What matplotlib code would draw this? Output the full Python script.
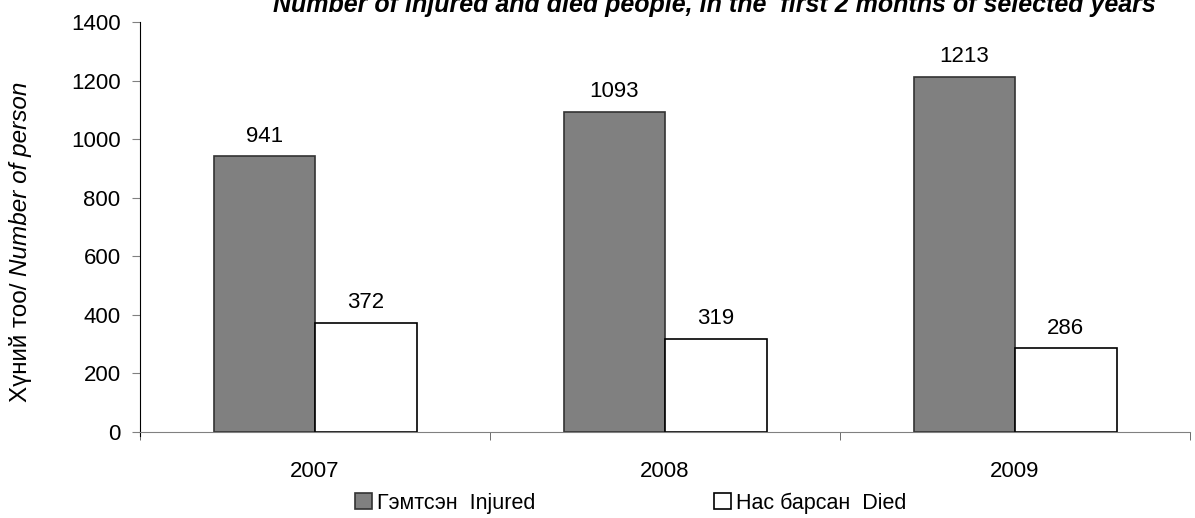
import matplotlib
matplotlib.use("Agg")
import matplotlib.pyplot as plt
import numpy as np

plt.rcParams["font.family"] = ["Liberation Sans", "DejaVu Sans"]

years = ["2007", "2008", "2009"]
injured = [941, 1093, 1213]
died = [372, 319, 286]
legend_labels = ["Гэмтсэн  Injured", "Нас барсан  Died"]
title = "Number of injured and died people, in the  first 2 months of selected years"

fig = plt.figure(figsize=(11.95, 5.18), dpi=100)
ax = fig.add_axes([140 / 1195, 1 - 432 / 518, 1050 / 1195, 410 / 518])

x = np.arange(len(years))
w = 0.29
b1 = ax.bar(x - w / 2, injured, w, color="#808080", edgecolor="#333333", linewidth=1.2, label=legend_labels[0])
b2 = ax.bar(x + w / 2, died, w, color="white", edgecolor="black", linewidth=1.2, label=legend_labels[1])

for bars, vals in [(b1, injured), (b2, died)]:
    for r, v in zip(bars, vals):
        ax.annotate(str(v), (r.get_x() + r.get_width() / 2, v), xytext=(0, 7),
                    textcoords="offset points", ha="center", va="bottom", fontsize=16)

ax.set_xlim(-0.5, 2.5)
ax.set_ylim(0, 1400)
ax.set_yticks(range(0, 1401, 200))
ax.set_xticks(x)
ax.set_xticklabels(years)
ax.set_xticks([-0.5, 0.5, 1.5, 2.5], minor=True)
ax.tick_params(axis="x", which="major", length=0, pad=21, labelsize=16)
ax.tick_params(axis="x", which="minor", length=6, direction="out", color="#555555")
ax.tick_params(axis="y", length=6, direction="out", color="#808080", pad=8, labelsize=16)

for s in ["top", "right"]:
    ax.spines[s].set_visible(False)
ax.spines["left"].set_color("black")
ax.spines["bottom"].set_color("#808080")
ax.spines["left"].set_bounds(-14, 1400)

# title partly clipped at the top edge, like the reference
fig.text(714 / 1195, 1 - 12 / 518, title, ha="center", va="baseline",
         fontsize=18, fontweight="bold", fontstyle="italic")

# y label with mixed upright / italic parts
fig.canvas.draw()
renderer = fig.canvas.get_renderer()
x0 = 27 / 1195
y0 = 1 - 402 / 518
t1 = fig.text(x0, y0, "Хүний тоо/ ", rotation=90, rotation_mode="anchor",
              ha="left", va="baseline", fontsize=17.5)
ext = t1.get_window_extent(renderer)
fig.text(x0, y0 + ext.height / fig.bbox.height, "Number of person", rotation=90,
         rotation_mode="anchor", ha="left", va="baseline", fontsize=17.5, fontstyle="italic")

fig.legend(loc="center left", bbox_to_anchor=(355 / 1195, 1 - 503 / 518), ncol=2, frameon=False,
           fontsize=15.5, handlelength=0.79, handleheight=0.79, handletextpad=0.23,
           columnspacing=8.3, borderpad=0, borderaxespad=0)

fig.savefig("out.png", dpi=100)
